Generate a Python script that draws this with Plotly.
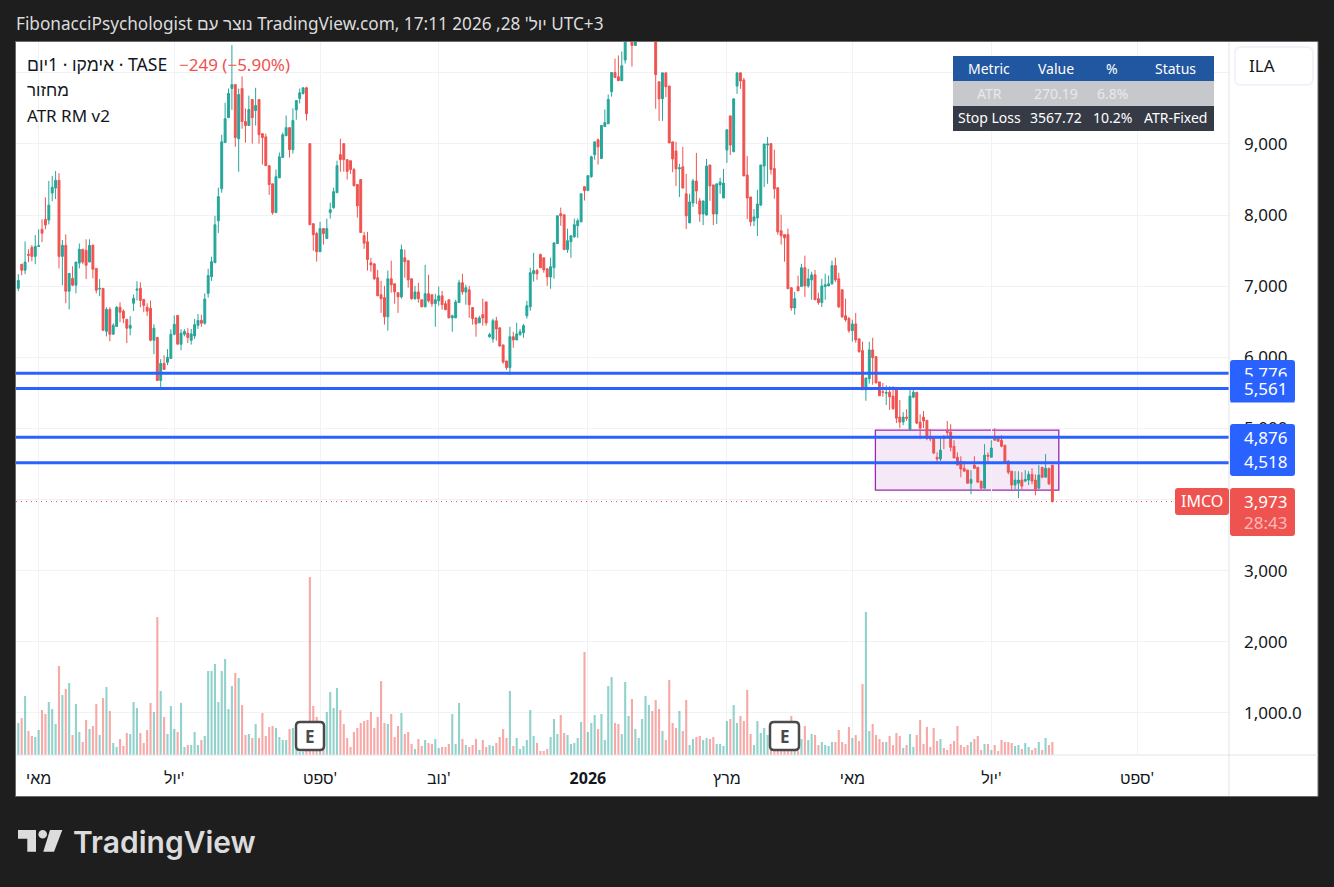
import plotly.graph_objects as go

W, H = 1334, 887
FONT = "Noto Sans, Liberation Sans, sans-serif"
INK = "#131722"
GREEN = "#26a69a"
RED = "#ef5350"
BLUE = "#2962ff"
GREEN_VOL = "rgba(38,166,154,0.5)"
RED_VOL = "rgba(239,83,80,0.5)"
GRID = "#f1f2f4"

OPEN = [
    6970, 7310, 7225, 7450, 7545, 7420, 7560, 7800, 7940, 7930,
    8310, 8380, 8490, 7420, 7575, 6930, 7110, 7015, 7325, 7520,
    7505, 7340, 7575, 7250, 6960, 6970, 6365, 6675, 6325, 6435,
    6705, 6650, 6535, 6410, 6760, 6945, 6970, 6815, 6705, 6690,
    6240, 6280, 5675, 5915, 5930, 5985, 6325, 6590, 6185, 6325,
    6340, 6240, 6300, 6450, 6520, 6480, 6900, 7135, 7330, 7920,
    8370, 9020, 9370, 9780, 9835, 9075, 9780, 9315, 9260, 9625,
    9470, 9625, 9145, 9100, 8695, 8440, 8035, 8525, 8810, 9115,
    9230, 8920, 9480, 9640, 9710, 9790, 9005, 7880, 7740, 7485,
    7810, 7670, 8035, 8105, 8315, 8850, 9005, 8780, 8765, 8640,
    8430, 8500, 7710, 7625, 7330, 7315, 7120, 6880, 6840, 6570,
    7105, 7035, 6910, 6850, 7400, 7360, 7105, 6825, 6920, 6810,
    6710, 6895, 6880, 6755, 6795, 6865, 6755, 6810, 6555, 6555,
    6770, 7050, 6920, 6950, 6700, 6555, 6485, 6600, 6780, 6290,
    6260, 6515, 6415, 6175, 5950, 5855, 6290, 6245, 6320, 6345,
    6585, 6710, 7175, 7220, 7445, 7400, 7245, 7130, 7260, 7600,
    8020, 8005, 7515, 7625, 7695, 7850, 7905, 8400, 8345, 8540,
    8850, 9060, 8795, 9245, 9285, 9735, 10005, 9945, 9890, 10180,
    10550, 10700, 10385, 10700, 10800, 10950, 11150, 11300, 10950, 9875,
    9635, 10000, 9815, 9030, 8900, 8650, 8680, 8300, 7890, 8170,
    8480, 8200, 8015, 8000, 8705, 8425, 8015, 8425, 8240, 8915,
    9395, 8890, 9815, 10000, 9900, 8565, 8255, 7920, 7960, 8140,
    8690, 8985, 9005, 8655, 8385, 7780, 7725, 7725, 6980, 6695,
    6995, 6995, 7260, 7005, 7090, 7160, 6825, 6770, 6995, 7005,
    7035, 7290, 7105, 6950, 6585, 6545, 6375, 6470, 6260, 6095,
    5545, 5700, 6105, 6010, 5655, 5515, 5495, 5510, 5455, 5555,
    5160, 5090, 5160, 4985, 5440, 5510, 5090, 5160, 5115, 4870,
    4865, 4595, 4570, 4890, 4960, 4950, 4750, 4595, 4540, 4440,
    4415, 4230, 4485, 4455, 4260, 4160, 4625, 4595, 4890, 4865,
    4835, 4765, 4540, 4400, 4205, 4230, 4275, 4260, 4275, 4355,
    4275, 4160, 4455, 4315, 4440, 4485,
]
HIGH = [
    7170, 7310, 7630, 7520, 7580, 7720, 7800, 7940, 8250, 8480,
    8550, 8620, 8590, 7650, 7730, 7180, 7280, 7340, 7600, 7520,
    7660, 7660, 7590, 7250, 7100, 6970, 6705, 6705, 6480, 6720,
    6775, 6675, 6535, 6580, 6885, 7070, 7055, 6815, 6760, 6800,
    6465, 6280, 5975, 6030, 6115, 6395, 6590, 6590, 6395, 6395,
    6410, 6400, 6540, 6610, 6600, 6900, 7245, 7415, 7990, 8385,
    9130, 9580, 9780, 10390, 9835, 9780, 9950, 9500, 9680, 9625,
    9790, 9625, 9145, 9145, 8695, 8440, 8640, 8880, 9160, 9400,
    9230, 9500, 9610, 9780, 9790, 9805, 9005, 7880, 7765, 7905,
    7810, 7950, 8175, 8385, 8765, 9075, 9005, 8780, 8765, 8665,
    8430, 8500, 7765, 7765, 7400, 7315, 7230, 7075, 7005, 7220,
    7360, 7035, 6910, 7585, 7515, 7360, 7105, 7005, 7050, 6810,
    7300, 7160, 6880, 6895, 6995, 6935, 6795, 6810, 6600, 6810,
    7090, 7175, 7020, 7005, 6700, 6555, 6585, 6825, 6780, 6345,
    6545, 6570, 6415, 6175, 5950, 6430, 6360, 6485, 6400, 6470,
    6795, 7260, 7470, 7245, 7460, 7400, 7245, 7400, 7610, 7990,
    8105, 8005, 7810, 7710, 7950, 7950, 8300, 8400, 8555, 8835,
    9030, 9075, 9260, 9485, 9695, 10005, 10200, 10245, 10300, 10700,
    10900, 10800, 10800, 10850, 11000, 11200, 11350, 11400, 11000, 9875,
    10000, 10000, 9815, 9030, 9030, 8720, 8960, 8580, 8300, 8510,
    8875, 8240, 8200, 8790, 8705, 8425, 8440, 8525, 8650, 9200,
    9395, 9635, 10000, 10000, 9930, 8830, 8255, 8085, 8355, 8705,
    9000, 9100, 9005, 8920, 8385, 8005, 7725, 7810, 6980, 6920,
    7150, 7315, 7430, 7245, 7205, 7230, 6910, 7105, 7175, 7150,
    7360, 7400, 7190, 6950, 6825, 6570, 6530, 6625, 6260, 6220,
    5710, 6220, 6275, 6010, 5655, 5640, 5610, 5595, 5595, 5555,
    5400, 5230, 5270, 5565, 5555, 5510, 5200, 5245, 5115, 4990,
    4865, 4665, 4865, 4905, 5105, 5060, 4835, 4665, 4610, 4540,
    4415, 4415, 4610, 4455, 4260, 4780, 4665, 4835, 5005, 4890,
    4905, 4765, 4555, 4400, 4400, 4400, 4385, 4415, 4400, 4440,
    4355, 4485, 4455, 4640, 4440, 4485,
]
LOW = [
    6930, 7155, 7170, 7340, 7350, 7310, 7555, 7620, 7800, 7870,
    8195, 8225, 7250, 7015, 6760, 6675, 7000, 6900, 7250, 7310,
    7100, 7340, 7110, 6900, 6860, 6380, 6295, 6225, 6325, 6435,
    6495, 6480, 6200, 6310, 6650, 6800, 6705, 6635, 6580, 6225,
    6045, 5675, 5580, 5830, 5890, 5985, 6310, 6185, 6100, 6295,
    6200, 6180, 6260, 6400, 6430, 6460, 6840, 7075, 7330, 7750,
    8315, 9020, 9370, 9480, 8960, 8610, 9215, 9020, 9260, 9005,
    9260, 9005, 8710, 8695, 8285, 8005, 8035, 8525, 8810, 9115,
    8810, 8865, 9340, 9570, 9695, 9330, 7865, 7500, 7345, 7485,
    7585, 7670, 7950, 8090, 8315, 8610, 8610, 8500, 8580, 8400,
    7965, 7755, 7525, 7220, 7205, 7090, 6865, 6625, 6460, 6375,
    6910, 6755, 6625, 6825, 7120, 6980, 6810, 6810, 6770, 6710,
    6710, 6770, 6710, 6430, 6725, 6670, 6670, 6555, 6360, 6555,
    6770, 6880, 6740, 6555, 6460, 6290, 6485, 6445, 6445, 6275,
    6205, 6235, 6150, 5910, 5825, 5755, 6135, 6245, 6305, 6275,
    6545, 6655, 7065, 7090, 7260, 7190, 7005, 6965, 7105, 7600,
    7850, 7515, 7470, 7400, 7680, 7680, 7905, 8205, 8345, 8525,
    8780, 8710, 8795, 9245, 9285, 9665, 9935, 9890, 9890, 10130,
    10450, 10090, 10385, 10600, 10750, 10900, 11100, 11100, 9495, 9325,
    9325, 9660, 9015, 8605, 8410, 8255, 8380, 7805, 7890, 8115,
    8155, 7905, 7860, 8000, 8200, 7860, 7875, 8300, 8240, 8735,
    8845, 8890, 9705, 9775, 8550, 7945, 7845, 7845, 7705, 8140,
    8395, 8440, 8570, 8230, 7725, 7585, 7345, 6965, 6655, 6600,
    6935, 6995, 6850, 6980, 6810, 6810, 6740, 6710, 6810, 7005,
    7020, 7060, 6695, 6555, 6500, 6345, 6220, 6205, 6065, 5545,
    5390, 5630, 5615, 5640, 5460, 5445, 5330, 5260, 5260, 5075,
    5005, 5045, 5105, 4985, 5425, 5060, 4850, 5005, 4835, 4820,
    4640, 4500, 4540, 4710, 4865, 4680, 4585, 4485, 4315, 4400,
    4230, 4075, 4440, 4245, 4145, 4160, 4500, 4595, 4835, 4820,
    4735, 4500, 4355, 4140, 4145, 4020, 4145, 4245, 4205, 4215,
    4060, 4160, 4300, 4315, 4205, 3960,
]
CLOSE = [
    7080, 7225, 7340, 7435, 7420, 7560, 7570, 7745, 7860, 8140,
    8390, 8490, 7420, 7575, 6930, 7180, 7015, 7340, 7520, 7340,
    7295, 7575, 7240, 6945, 6970, 6380, 6675, 6325, 6450, 6705,
    6635, 6550, 6410, 6450, 6830, 6960, 6800, 6730, 6650, 6240,
    6410, 5675, 5915, 5830, 6000, 6325, 6465, 6185, 6340, 6365,
    6280, 6330, 6460, 6520, 6480, 6820, 7150, 7345, 7865, 8260,
    9030, 9355, 9710, 9835, 9090, 9695, 9315, 9260, 9485, 9370,
    9540, 9130, 9090, 8695, 8430, 8035, 8540, 8820, 9130, 9230,
    8920, 9330, 9610, 9720, 9790, 9425, 7865, 7725, 7485, 7810,
    7740, 7810, 8075, 8330, 8695, 8780, 8780, 8615, 8640, 8415,
    8130, 7755, 7605, 7375, 7300, 7105, 6865, 6825, 6570, 7105,
    7020, 6920, 6850, 7515, 7345, 7090, 6825, 6920, 6825, 6710,
    6895, 6795, 6755, 6810, 6865, 6740, 6670, 6555, 6585, 6780,
    7050, 6920, 6980, 6740, 6545, 6470, 6555, 6555, 6485, 6320,
    6515, 6400, 6160, 5935, 5855, 6290, 6245, 6330, 6360, 6445,
    6725, 7190, 7220, 7175, 7260, 7230, 7130, 7275, 7610, 7990,
    7990, 7515, 7640, 7710, 7865, 7920, 8300, 8345, 8555, 8820,
    9030, 8960, 9260, 9300, 9625, 10005, 9935, 9890, 10100, 10560,
    10800, 10385, 10700, 10800, 10950, 11150, 11300, 11150, 9975, 9635,
    10000, 9805, 9015, 8790, 8650, 8665, 8380, 7990, 8185, 8480,
    8340, 8015, 8200, 8690, 8410, 8015, 8440, 8465, 8450, 9200,
    8985, 9635, 10000, 9885, 8550, 8240, 7905, 7975, 8155, 8705,
    9000, 9000, 8640, 8370, 7765, 7710, 7680, 6965, 6695, 6825,
    6935, 7260, 7005, 7105, 7160, 6810, 6770, 7005, 7020, 7035,
    7290, 7090, 6710, 6570, 6530, 6375, 6470, 6245, 6080, 5545,
    5710, 6105, 5995, 5640, 5460, 5510, 5505, 5445, 5280, 5145,
    5090, 5160, 5145, 5455, 5510, 5075, 5005, 5105, 4865, 4855,
    4655, 4570, 4695, 4865, 4945, 4735, 4585, 4485, 4430, 4400,
    4230, 4285, 4440, 4245, 4160, 4625, 4610, 4725, 4835, 4820,
    4750, 4525, 4385, 4205, 4275, 4275, 4190, 4285, 4355, 4260,
    4145, 4345, 4315, 4440, 4222, 3973,
]
VOLUME = [
    96, 111, 177, 72, 57, 54, 75, 135, 123, 159,
    138, 93, 267, 180, 198, 216, 60, 153, 69, 39,
    105, 78, 87, 153, 60, 171, 204, 132, 36, 24,
    48, 27, 66, 63, 159, 141, 66, 36, 75, 156,
    129, 414, 192, 114, 63, 147, 78, 69, 156, 24,
    30, 30, 69, 30, 45, 57, 252, 252, 273, 159,
    252, 288, 138, 207, 246, 231, 150, 60, 63, 51,
    93, 51, 126, 57, 84, 87, 81, 54, 45, 45,
    78, 81, 20, 10, 10, 30, 534, 147, 114, 40,
    50, 129, 189, 141, 201, 135, 93, 51, 24, 69,
    81, 96, 102, 105, 129, 81, 114, 222, 96, 93,
    123, 54, 87, 126, 63, 69, 33, 18, 48, 27,
    45, 36, 33, 48, 21, 24, 24, 33, 123, 33,
    156, 48, 30, 24, 30, 48, 15, 45, 24, 30,
    27, 36, 54, 78, 51, 192, 27, 51, 18, 27,
    45, 135, 57, 36, 12, 12, 18, 54, 108, 63,
    120, 66, 60, 33, 36, 51, 99, 309, 69, 96,
    120, 78, 123, 45, 207, 234, 96, 93, 63, 219,
    117, 168, 78, 51, 108, 177, 150, 132, 165, 138,
    72, 45, 225, 96, 81, 132, 72, 165, 30, 48,
    54, 57, 45, 51, 48, 54, 33, 33, 27, 102,
    108, 150, 96, 117, 102, 195, 63, 30, 102, 66,
    81, 60, 15, 12, 12, 15, 12, 12, 117, 12,
    12, 48, 87, 45, 63, 60, 30, 39, 30, 27,
    39, 39, 75, 39, 33, 84, 51, 60, 42, 213,
    429, 72, 93, 60, 48, 39, 39, 57, 30, 66,
    57, 21, 30, 63, 24, 60, 105, 33, 84, 24,
    81, 42, 48, 21, 15, 33, 42, 87, 30, 24,
    30, 39, 48, 57, 15, 33, 33, 15, 30, 12,
    45, 39, 39, 36, 27, 30, 18, 36, 24, 15,
    21, 39, 15, 51, 30, 39,
]

MONTH_BARS = [6, 46, 89, 124, 168, 209, 246, 287, 330]
MONTH_LABELS = ["מאי", "יול'", "ספט'", "נוב'", "<b>2026</b>", "מרץ", "מאי", "יול'", "ספט'"]
PRICE_TICKS = [1000, 2000, 3000, 4000, 5000, 6000, 7000, 8000, 9000, 10000]
# 4,000 and 10,000 sit fully behind the price tag and the currency box
PRICE_LABELS = ["1,000.0", "2,000", "3,000", "", "5,000", "6,000", "7,000", "8,000", "9,000", ""]
LEVELS = [5776, 5561, 4876, 4518]
LAST_PRICE = 3973
BOX_BARS = [252.8, 306.9]
BOX_PRICES = [4134, 4977]
EARNINGS_BOXES = [(296, 324), (770, 799)]
TABLE_ROWS = [
    ["Metric", "Value", "%", "Status"],
    ["ATR", "270.19", "6.8%", ""],
    ["Stop Loss", "3567.72", "10.2%", "ATR-Fixed"],
]


def px(x):
    return x / W


def py(y):
    return 1 - y / H


def round_rect(x0, y0, x1, y1, r, fill, line=None, width=0, layer="above"):
    x0p, x1p = px(x0), px(x1)
    y0p, y1p = py(y0), py(y1)
    rx, ry = r / W, r / H
    path = (
        f"M {x0p + rx} {y0p} L {x1p - rx} {y0p} Q {x1p} {y0p} {x1p} {y0p - ry} "
        f"L {x1p} {y1p + ry} Q {x1p} {y1p} {x1p - rx} {y1p} "
        f"L {x0p + rx} {y1p} Q {x0p} {y1p} {x0p} {y1p + ry} "
        f"L {x0p} {y0p - ry} Q {x0p} {y0p} {x0p + rx} {y0p} Z"
    )
    return dict(
        type="path", path=path, xref="paper", yref="paper", layer=layer,
        fillcolor=fill, line=dict(color=line or fill, width=width),
    )


def rect(x0, y0, x1, y1, fill, line=None, width=0, layer="above"):
    return dict(
        type="rect", xref="paper", yref="paper", layer=layer,
        x0=px(x0), x1=px(x1), y0=py(y0), y1=py(y1),
        fillcolor=fill, line=dict(color=line or fill, width=width),
    )


def label(x, y, text, size=17, color=INK, anchor="center", family=FONT, weight=None):
    font = dict(family=family, size=size, color=color)
    if weight:
        font["weight"] = weight
    return dict(
        x=px(x), y=py(y), xref="paper", yref="paper", text=text, showarrow=False,
        xanchor=anchor, yanchor="middle", font=font,
    )


bars = list(range(len(CLOSE)))
vol_colors = [GREEN_VOL if c >= o else RED_VOL for o, c in zip(OPEN, CLOSE)]

fig = go.Figure()
fig.add_trace(go.Bar(x=bars, y=VOLUME, yaxis="y2", width=0.62, marker=dict(color=vol_colors, line_width=0)))
fig.add_trace(
    go.Candlestick(
        x=bars, open=OPEN, high=HIGH, low=LOW, close=CLOSE, whiskerwidth=0,
        increasing=dict(line=dict(color=GREEN, width=1), fillcolor=GREEN),
        decreasing=dict(line=dict(color=RED, width=1), fillcolor=RED),
    )
)

shapes = [
    rect(15.5, 41.5, 1318, 796.5, "#ffffff", line="#6a6a6a", width=1, layer="below"),
    dict(
        type="rect", xref="x", yref="y", layer="below",
        x0=BOX_BARS[0], x1=BOX_BARS[1], y0=BOX_PRICES[0], y1=BOX_PRICES[1],
        fillcolor="rgba(156,39,176,0.1)", line=dict(color="#9c27b0", width=1.3),
    ),
    dict(
        type="line", xref="paper", yref="y", x0=px(16), x1=px(1229), y0=LAST_PRICE, y1=LAST_PRICE,
        line=dict(color=RED, width=1, dash="1px,4px"),
    ),
]
for level in LEVELS:
    shapes.append(
        dict(
            type="line", xref="paper", yref="y", x0=px(16), x1=px(1229), y0=level, y1=level,
            line=dict(color=BLUE, width=3),
        )
    )
shapes += [
    dict(type="line", xref="paper", yref="paper", x0=px(1229), x1=px(1229), y0=py(42), y1=py(796),
         line=dict(color="#e0e3eb", width=1)),
    dict(type="line", xref="paper", yref="paper", x0=px(16), x1=px(1318), y0=py(755), y1=py(755),
         line=dict(color="#e0e3eb", width=1)),
    round_rect(1235, 47, 1313, 85, 6, "#ffffff", line="#f0f3fa", width=2),
    round_rect(1230, 360, 1295, 386, 3, BLUE),
    round_rect(1230, 376, 1295, 402, 3, BLUE),
    round_rect(1230, 424, 1295, 476, 3, BLUE),
    round_rect(1175, 488, 1229, 515, 3, RED),
    round_rect(1230, 488, 1295, 536, 3, RED),
    rect(953, 56, 1214, 81, "#2157a0"),
    rect(953, 81, 1214, 106, "#c7c8cc"),
    rect(953, 106, 1214, 131, "#363a45"),
]
for x0, x1 in EARNINGS_BOXES:
    shapes.append(round_rect(x0, 722, x1, 750, 4, "#ffffff", line="#4a4a4a", width=2.5))

# tradingview mark under the chart
shapes += [
    dict(type="path", xref="paper", yref="paper", fillcolor="#dcdcdc", line_width=0,
         path=f"M {px(18)} {py(830)} L {px(36)} {py(830)} L {px(36)} {py(851.7)} L {px(27.3)} {py(851.7)} "
              f"L {px(27.3)} {py(838.7)} L {px(18)} {py(838.7)} Z"),
    dict(type="circle", xref="paper", yref="paper", fillcolor="#dcdcdc", line_width=0,
         x0=px(38.4), x1=px(47), y0=py(830), y1=py(838.6)),
    dict(type="path", xref="paper", yref="paper", fillcolor="#dcdcdc", line_width=0,
         path=f"M {px(50)} {py(830)} L {px(62.3)} {py(830)} L {px(54)} {py(851.7)} L {px(43.3)} {py(851.7)} Z"),
]

annotations = [
    label(14, 23, "FibonacciPsychologist נוצר עם TradingView.com, יול' 28, 2026 17:11 UTC+3",
          size=17.2, color="#dcdcdc", anchor="left"),
    label(25, 64, "אימקו · 1יום · TASE", size=17.6, anchor="left"),
    label(177, 64, "−249 (−5.90%)", color=RED, anchor="left"),
    label(25, 90, "מחזור", anchor="left"),
    label(25, 116, "ATR RM v2", anchor="left"),
    label(1247, 66, "ILA", anchor="left"),
    label(1265, 373, "5,776", color="#ffffff"),
    # covers the lower half of the 5,776 label, as on the original axis
    dict(
        x=px(1230), y=py(376), xref="paper", yref="paper", text=" ", showarrow=False,
        xanchor="left", yanchor="top", width=63, height=25, borderpad=0, bgcolor=BLUE,
    ),
    label(1265, 388, "5,561", color="#ffffff"),
    label(1265, 437, "4,876", color="#ffffff"),
    label(1265, 462, "4,518", color="#ffffff"),
    label(1202, 501, "IMCO", size=16, color="#ffffff"),
    label(1265, 501, "3,973", color="#ffffff"),
    label(1265, 522, "28:43", color="rgba(255,255,255,0.6)"),
    label(71, 842, "TradingView", size=30, color="#dcdcdc", anchor="left", family="Inter", weight=600),
]
for x0, x1 in EARNINGS_BOXES:
    annotations.append(label((x0 + x1) / 2, 736, "<b>E</b>", size=17, color="#4a4a4a"))

COLUMN_CENTERS = [989, 1056, 1112, 1175]
ROW_STYLES = [(68, "#ffffff"), (93, "#e9e9eb"), (118, "#ffffff")]
for row, (y, color) in zip(TABLE_ROWS, ROW_STYLES):
    for text, x in zip(row, COLUMN_CENTERS):
        if text:
            annotations.append(label(x, y, text, size=14, color=color))

fig.update_layout(
    width=W,
    height=H,
    margin=dict(l=0, r=0, t=0, b=0),
    paper_bgcolor="#1e1e1e",
    plot_bgcolor="#ffffff",
    showlegend=False,
    boxgap=0.2,
    font=dict(family=FONT, color=INK),
    shapes=shapes,
    annotations=annotations,
    xaxis=dict(
        domain=[px(16), px(1229)],
        range=[-0.68, 357.1],
        rangeslider_visible=False,
        tickvals=MONTH_BARS,
        ticktext=MONTH_LABELS,
        tickfont=dict(family=FONT, size=16, color=INK),
        ticklabelstandoff=12,
        showgrid=True,
        gridcolor=GRID,
        zeroline=False,
        showline=False,
    ),
    yaxis=dict(
        domain=[py(755), py(42)],
        range=[409, 10434],
        side="right",
        tickvals=PRICE_TICKS,
        ticktext=PRICE_LABELS,
        tickfont=dict(family=FONT, size=17, color=INK),
        ticklabelstandoff=14,
        showgrid=True,
        gridcolor=GRID,
        zeroline=False,
        showline=False,
    ),
    yaxis2=dict(overlaying="y", range=[0, 2139], visible=False),
)

fig.write_html(
    "out.html",
    config={"displayModeBar": False},
    post_script="document.body.style.margin = '0';",
)
